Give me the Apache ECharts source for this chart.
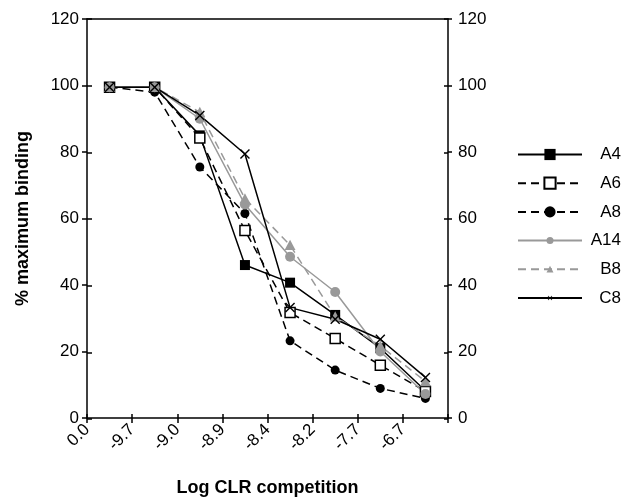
<!DOCTYPE html>
<html><head><meta charset="utf-8">
<script src="https://cdn.jsdelivr.net/npm/echarts@6/dist/echarts.min.js"></script>
<style>html,body{margin:0;padding:0;background:#fff}#c{width:622px;height:502px}</style>
</head><body><div id="c"></div>
<script>
const tickLabels = ['0.0','-9.7','-9.0','-8.9','-8.4','-8.2','-7.7','-6.7'];
const seriesNames = ['A4','A6','A8','A14','B8','C8'];
const A4  = [99.5, 99.5, 85, 46, 40.7, 31, 21, 8.2];
const A6  = [99.5, 99.5, 84.2, 56.4, 31.7, 23.9, 15.9, 8];
const A8  = [99.5, 98, 75.5, 61.5, 23.2, 14.4, 8.9, 5.9];
const A14 = [99.5, 99.5, 90, 64.2, 48.5, 37.9, 20, 7.2];
const B8  = [99.5, 99.5, 92, 66, 52, 30.5, 21.7, 11];
const C8  = [99.5, 99.5, 91, 79.4, 33.2, 29.7, 23.7, 12.2];
const values = [A4, A6, A8, A14, B8, C8];

const FONT = 'Liberation Sans, Arial, sans-serif';
const GRAY = '#999999';
// padded symbol shapes (bounding box 0..20) so the legend shows them smaller than on the plot
const circlePad = 'path://M0,0 M20,20 M3.75,10 A6.25,6.25 0 1,1 16.25,10 A6.25,6.25 0 1,1 3.75,10 Z';
const triPad = 'path://M0,0 M20,20 M10,3.8 L16.2,15.6 L3.8,15.6 Z';
const xPad = 'path://M0,0 M20,20 M6,6.8 L6.8,6 L10,9.2 L13.2,6 L14,6.8 L10.8,10 L14,13.2 L13.2,14 L10,10.8 L6.8,14 L6,13.2 L9.2,10 Z';
const styles = [
  {color:'#000', type:'solid', symbol:'rect', size:10, fill:'#000'},
  {color:'#000', type:[8,5], symbol:'rect', size:10, fill:'#fff'},
  {color:'#000', type:[8,5], symbol:'circle', size:9, fill:'#000'},
  {color:GRAY, type:'solid', symbol:circlePad, size:16, fill:GRAY},
  {color:GRAY, type:[8,5], symbol:triPad, size:17.5, fill:GRAY},
  {color:'#000', type:'solid', symbol:xPad, size:25, fill:'#000'}
];

const chart = echarts.init(document.getElementById('c'), null, {renderer:'canvas'});
const n = tickLabels.length;
const G = {left:87, right:174, top:19, bottom:83, containLabel:false};
const baseX = {type:'value', min:0, max:n, interval:1, splitLine:{show:false}};
const baseY = {type:'value', min:0, max:120, interval:20, splitLine:{show:false}};
const tickS = {color:'#000', width:1.5};
const lineS = {show:true, onZero:false, lineStyle:{color:'#000', width:1.5}};
const noLine = {show:false, onZero:false};
const noLabel = {show:false};
const tickFont = {fontFamily:FONT, fontSize:17, color:'#000'};
const nameFont = {fontFamily:FONT, fontSize:18, fontWeight:'bold', color:'#000'};

chart.setOption({
  animation:false,
  backgroundColor:'#fff',
  grid:[Object.assign({}, G), Object.assign({}, G)],
  legend:{
    orient:'vertical', left:517, top:146, padding:0,
    itemWidth:64, itemHeight:14, itemGap:11.7,
    data:seriesNames,
    formatter:'{a|{name}}',
    textStyle:{fontFamily:FONT, fontSize:17, color:'#000',
      rich:{a:{width:34, align:'right', fontFamily:FONT, fontSize:17, color:'#000'}}}
  },
  xAxis:[
    Object.assign({}, baseX, {gridIndex:0, position:'bottom',
      axisLine:lineS, axisTick:{show:true, inside:false, length:5, lineStyle:tickS},
      axisLabel:Object.assign({rotate:45, margin:9,
        formatter:v => (tickLabels[v] !== undefined ? tickLabels[v] : '')}, tickFont),
      name:'Log CLR competition', nameLocation:'middle', nameGap:61,
      nameTextStyle:nameFont}),
    Object.assign({}, baseX, {gridIndex:0, position:'top',
      axisLine:lineS, axisTick:{show:false}, axisLabel:noLabel}),
    Object.assign({}, baseX, {gridIndex:1, position:'bottom',
      axisLine:noLine, axisTick:{show:true, inside:true, length:5, lineStyle:tickS},
      axisLabel:noLabel})
  ],
  yAxis:[
    Object.assign({}, baseY, {gridIndex:0, position:'left',
      axisLine:lineS,
      axisTick:{show:true, inside:false, length:5, lineStyle:tickS},
      axisLabel:Object.assign({margin:8}, tickFont),
      name:'% maximum binding', nameLocation:'middle', nameGap:55, nameRotate:90,
      nameTextStyle:nameFont}),
    Object.assign({}, baseY, {gridIndex:0, position:'right',
      axisLine:lineS,
      axisTick:{show:true, inside:false, length:4, lineStyle:tickS},
      axisLabel:Object.assign({margin:10}, tickFont)}),
    Object.assign({}, baseY, {gridIndex:1, position:'left',
      axisLine:noLine,
      axisTick:{show:true, inside:true, length:5, lineStyle:tickS},
      axisLabel:noLabel}),
    Object.assign({}, baseY, {gridIndex:1, position:'right',
      axisLine:noLine,
      axisTick:{show:true, inside:true, length:4, lineStyle:tickS},
      axisLabel:noLabel})
  ],
  series: seriesNames.map((name, k) => {
    const s = styles[k];
    return {
      name, type:'line', xAxisIndex:0, yAxisIndex:0,
      data: values[k].map((v, i) => [i + 0.5, v]),
      symbol:s.symbol, symbolSize:s.size, showSymbol:true,
      lineStyle:{color:s.color, width:1.5, type:s.type},
      itemStyle:{color:s.fill, borderColor:s.color, borderWidth:(k===1?1.5:0)},
      emphasis:{disabled:true}
    };
  })
});
</script></body></html>
